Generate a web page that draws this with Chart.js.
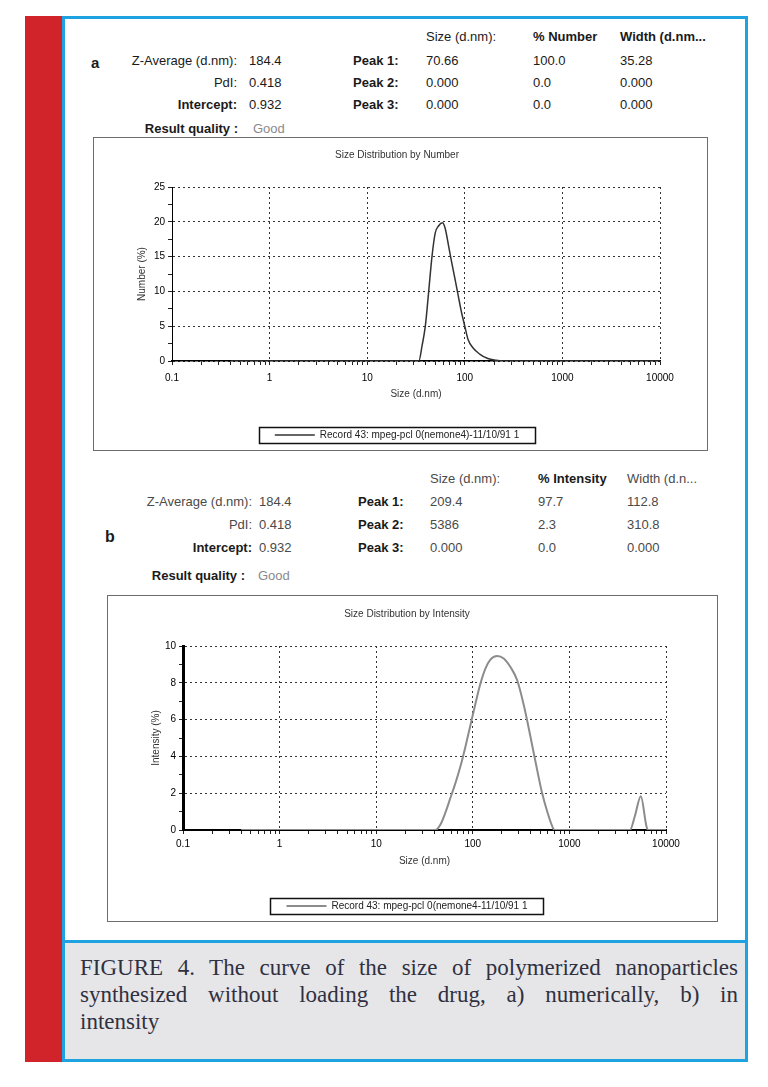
<!DOCTYPE html>
<html>
<head>
<meta charset="utf-8">
<script src="https://cdn.jsdelivr.net/npm/chart.js@4.4.0/dist/chart.umd.min.js"></script>
<style>
  html, body { margin:0; padding:0; background:#fff; }
  body { width:768px; height:1087px; position:relative; overflow:hidden; font-family:"Liberation Sans", Arial, sans-serif; }
  .redbar { position:absolute; left:25px; top:16px; width:37px; height:1046px; background:#d1232a; }
  .frame { position:absolute; left:62px; top:16px; width:686px; height:1046px; box-sizing:border-box; border:3px solid #1fa3e0; background:#fff; }
  .caption { position:absolute; left:62px; top:940px; width:686px; height:122px; box-sizing:border-box; border:3px solid #1fa3e0; background:#e6e6e9; }
  .cap { position:absolute; left:80px; width:658px; font-family:"Liberation Serif", "DejaVu Serif", serif; font-size:23px; line-height:27px; color:#30303f; white-space:nowrap; }
  .cap.j { text-align:justify; text-align-last:justify; white-space:normal; }
  .t { position:absolute; white-space:nowrap; font-size:13px; color:#1a1a1a; transform:translateY(-50%); }
  .t.r { transform:translate(-100%,-50%); }
  .t.b { font-weight:bold; }
  .t.g { color:#8a8a8a; }
  .t.lt { color:#4a4a4a; }
  .box { position:absolute; border:1px solid #6d6d6d; box-sizing:border-box; background:#fff; }
  .box canvas { display:block; }
</style>
</head>
<body>
<div class="redbar"></div>
<div class="frame"></div>

<div class="box" style="left:93px; top:137px; width:615px; height:314px;"><canvas id="chartNumber" width="613" height="312"></canvas></div>
<div class="box" style="left:107px; top:595px; width:611px; height:327px;"><canvas id="chartIntensity" width="609" height="325"></canvas></div>

<div class="caption"></div>
<div class="cap j" style="top:954px;">FIGURE 4. The curve of the size of polymerized nanoparticles</div>
<div class="cap j" style="top:981px;">synthesized without loading the drug, a) numerically, b) in</div>
<div class="cap" style="top:1008px;">intensity</div>

<script>
// x axis (size, d.nm) decade labels
const sizeTickLabels = ['0.1', '1', '10', '100', '1000', '10000'];

// a) size distribution by number
const numberSizes = [0.4, 33.8, 36.5, 39.4, 42.6, 46.1, 49.8, 53.8, 59.0, 62.8, 67.9, 73.3, 79.3, 85.6, 92.5, 100, 108, 121, 142, 172, 209, 244, 10000];
const numberPct   = [0, 0, 2.2, 5.0, 9.9, 15.0, 18.4, 19.4, 19.85, 19.1, 16.7, 14.2, 11.8, 9.4, 7.0, 5.0, 3.1, 1.9, 1.0, 0.35, 0.1, 0, 0];

// b) size distribution by intensity
const intensitySizes = [0.4, 41, 46.4, 52, 58.7, 66.2, 74.5, 84, 94.6, 106.6, 120, 135, 152, 179, 209, 245, 288, 337, 395, 463, 521, 587, 662, 700, 4236, 4764, 5486, 6264, 6516, 10000];
const intensityPct   = [0, 0, 0.31, 0.94, 1.75, 2.56, 3.46, 4.54, 5.71, 6.88, 7.96, 8.77, 9.26, 9.46, 9.32, 8.86, 8.14, 6.79, 5.08, 3.28, 2.02, 1.03, 0.22, 0, 0, 0.76, 1.84, 0.22, 0, 0];

// report header text: [text, x, y, classes, font size]
const headerA = [
  ['a', 91, 62, 'b', 15],
  ['Size (d.nm):', 426, 36, ''], ['% Number', 533, 36, 'b'], ['Width (d.nm...', 620, 36, 'b'],
  ['Z-Average (d.nm):', 237, 60, 'r'], ['184.4', 249, 60, ''], ['Peak 1:', 353, 60, 'b'], ['70.66', 426, 60, ''], ['100.0', 533, 60, ''], ['35.28', 620, 60, ''],
  ['PdI:', 237, 82, 'r'], ['0.418', 249, 82, ''], ['Peak 2:', 353, 82, 'b'], ['0.000', 426, 82, ''], ['0.0', 533, 82, ''], ['0.000', 620, 82, ''],
  ['Intercept:', 237, 104, 'r b'], ['0.932', 249, 104, ''], ['Peak 3:', 353, 104, 'b'], ['0.000', 426, 104, ''], ['0.0', 533, 104, ''], ['0.000', 620, 104, ''],
  ['Result quality :', 238, 128, 'r b'], ['Good', 253, 128, 'g']
];
const headerB = [
  ['b', 105, 537, 'b', 16],
  ['Size (d.nm):', 430, 478, 'lt'], ['% Intensity', 538, 478, 'b'], ['Width (d.n...', 627, 478, 'lt'],
  ['Z-Average (d.nm):', 252, 501, 'r lt'], ['184.4', 259, 501, 'lt'], ['Peak 1:', 358, 501, 'b'], ['209.4', 430, 501, 'lt'], ['97.7', 538, 501, 'lt'], ['112.8', 627, 501, 'lt'],
  ['PdI:', 252, 524, 'r lt'], ['0.418', 259, 524, 'lt'], ['Peak 2:', 358, 524, 'b'], ['5386', 430, 524, 'lt'], ['2.3', 538, 524, 'lt'], ['310.8', 627, 524, 'lt'],
  ['Intercept:', 252, 547, 'r b'], ['0.932', 259, 547, 'lt'], ['Peak 3:', 358, 547, 'b'], ['0.000', 430, 547, 'lt'], ['0.0', 538, 547, 'lt'], ['0.000', 627, 547, 'lt'],
  ['Result quality :', 245, 575, 'r b'], ['Good', 258, 575, 'g']
];

function putText(rows){
  rows.forEach(([txt, x, y, cls, size]) => {
    const el = document.createElement('div');
    el.className = ('t ' + cls).trim();
    el.textContent = txt;
    el.style.left = x + 'px';
    el.style.top = y + 'px';
    if(size) el.style.fontSize = size + 'px';
    document.body.appendChild(el);
  });
}
putText(headerA);
putText(headerB);

Chart.defaults.font.family = '"Liberation Sans", Arial, sans-serif';

const isDecade = (v) => Math.abs(Math.log10(v) - Math.round(Math.log10(v))) < 1e-6;
const isWhole = (v) => {
  const m = v / Math.pow(10, Math.floor(Math.log10(v) + 1e-9));
  return Math.abs(m - Math.round(m)) < 1e-6;
};

// box round the legend, like the instrument report
const legendFrame = {
  id: 'legendFrame',
  afterDraw(chart){
    const lg = chart.legend;
    if(!lg || !lg.legendHitBoxes || !lg.legendHitBoxes.length) return;
    const hb = lg.legendHitBoxes[0];
    const ctx = chart.ctx;
    ctx.save();
    ctx.strokeStyle = '#111';
    ctx.lineWidth = 1.5;
    ctx.strokeRect(Math.round(hb.left - 16) + 0.5, Math.round(hb.top - 3) + 0.5, Math.round(hb.width + 32), Math.round(hb.height + 6));
    ctx.restore();
  }
};

function sizeChart(id, o){
  const pts = o.sizes.map((s, i) => ({ x: s, y: o.values[i] }));
  return new Chart(document.getElementById(id), {
    type: 'line',
    data: { datasets: [{
      label: o.legend, data: pts, borderColor: o.color, borderWidth: o.lineWidth,
      pointRadius: 0, cubicInterpolationMode: 'monotone', fill: false
    }]},
    options: {
      responsive: false, animation: false,
      layout: { padding: { left: 40, right: o.padRight, top: 0, bottom: 0 } },
      plugins: {
        title: { display: true, text: o.title, color: '#333', font: { size: 10, weight: 'normal' }, padding: { top: o.titleTop, bottom: o.titleBottom } },
        legend: { position: 'bottom', labels: { usePointStyle: true, pointStyle: 'line', pointStyleWidth: 40, color: '#222', font: { size: 10 }, padding: 10 } },
        tooltip: { enabled: false }
      },
      scales: {
        x: {
          type: 'logarithmic', min: 0.1, max: 10000,
          afterBuildTicks: (s) => { s.ticks = s.ticks.filter(t => isWhole(t.value)); },
          afterFit: (s) => { s.height = o.xHeight; },
          ticks: { autoSkip: false, maxRotation: 0, minRotation: 0, padding: o.xTickPad, color: '#000', font: { size: 10 },
            callback: (v) => isDecade(v) ? sizeTickLabels[Math.round(Math.log10(v)) + 1] : '' },
          grid: { color: (c) => c.tick && isDecade(c.tick.value) ? '#333' : 'rgba(0,0,0,0)', lineWidth: 1, tickColor: '#222', tickLength: 4, tickWidth: 1 },
          border: { color: '#000', width: o.xAxisWidth, dash: [2, 3] },
          title: { display: true, text: 'Size (d.nm)', color: '#333', font: { size: 10 }, padding: { top: 0, bottom: o.xTitlePad } }
        },
        y: {
          min: 0, max: o.yMax,
          afterFit: (s) => { s.width = o.yWidth; },
          ticks: { stepSize: o.yMinor, autoSkip: false, padding: 3, color: '#000', font: { size: 10 },
            callback: (v) => Math.abs(v % o.yMajor) < 1e-6 ? String(v) : '' },
          grid: { color: (c) => c.tick && Math.abs(c.tick.value % o.yMajor) < 1e-6 ? '#333' : 'rgba(0,0,0,0)', lineWidth: 1, tickColor: '#222', tickLength: 4, tickWidth: 1 },
          border: { color: '#000', width: o.yAxisWidth, dash: [2, 3] },
          title: { display: true, text: o.yTitle, color: '#333', font: { size: 10 }, padding: { top: 2, bottom: 0 } }
        }
      }
    },
    plugins: [legendFrame]
  });
}

sizeChart('chartNumber', {
  sizes: numberSizes, values: numberPct,
  legend: 'Record 43: mpeg-pcl 0(nemone4)-11/10/91 1',
  title: 'Size Distribution by Number', yTitle: 'Number (%)',
  color: '#333', lineWidth: 1.5,
  yMax: 25, yMajor: 5, yMinor: 2.5,
  padRight: 47, yWidth: 38, xHeight: 59, xTickPad: 7, xTitlePad: 20,
  titleTop: 11, titleBottom: 26, xAxisWidth: 1.5, yAxisWidth: 1
});

sizeChart('chartIntensity', {
  sizes: intensitySizes, values: intensityPct,
  legend: 'Record 43: mpeg-pcl 0(nemone4-11/10/91 1',
  title: 'Size Distribution by Intensity', yTitle: 'Intensity (%)',
  color: '#8c8c8c', lineWidth: 2,
  yMax: 10, yMajor: 2, yMinor: 1,
  padRight: 51, yWidth: 35, xHeight: 61, xTickPad: 4, xTitlePad: 24,
  titleTop: 12, titleBottom: 26, xAxisWidth: 2, yAxisWidth: 3
});
</script>
</body>
</html>
